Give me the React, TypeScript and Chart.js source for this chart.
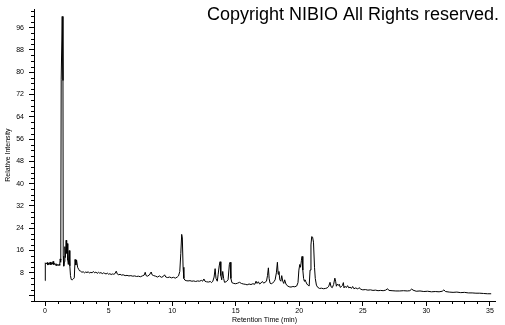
import React, { useEffect, useRef } from 'react';
import { Chart, registerables } from 'chart.js';

Chart.register(...registerables);

// Retention time (min)
const retentionTimes: number[] = [
  0.0, 0.02, 0.1, 0.17, 0.22, 0.28, 0.33, 0.4, 0.46, 0.52, 0.57, 0.63, 0.68, 0.74, 0.8, 0.86, 0.92, 0.98, 1.04, 1.1, 1.15, 1.19, 1.22,
  1.25, 1.27, 1.35, 1.41, 1.43, 1.47,
  1.52, 1.56, 1.6, 1.66, 1.7, 1.74, 1.79, 1.83, 1.9, 1.95, 2.0, 2.06, 2.14, 2.22, 2.3, 2.36, 2.42, 2.48, 2.56, 2.64, 2.72,
  2.8, 2.9, 3.0, 3.1, 3.2, 3.3, 3.4, 3.5, 3.6, 3.7, 3.8, 3.9, 4.0, 4.1, 4.2, 4.3, 4.4, 4.5, 4.6, 4.7, 4.8, 4.9, 5.0, 5.1, 5.2, 5.3, 5.4, 5.5, 5.6, 5.68, 5.8, 5.9, 6.0,
  6.15, 6.3, 6.45, 6.6, 6.75, 6.9, 7.05, 7.2, 7.35, 7.5, 7.65, 7.8, 7.88, 7.95, 8.05, 8.2, 8.35, 8.42, 8.55, 8.7, 8.85, 9.0, 9.15, 9.3, 9.4, 9.5, 9.65, 9.8, 9.95,
  10.1, 10.25, 10.4, 10.5, 10.6, 10.68, 10.75, 10.8, 10.86, 10.92, 11.0, 11.1,
  11.25, 11.4, 11.55, 11.7, 11.85, 12.0, 12.15, 12.3, 12.4, 12.5, 12.58, 12.7, 12.85, 13.0, 13.1, 13.2, 13.3, 13.38, 13.45, 13.55, 13.62, 13.7, 13.77, 13.83, 13.9, 13.98, 14.05, 14.12, 14.25, 14.4, 14.5, 14.56, 14.62, 14.7, 14.85,
  15.0, 15.15, 15.3, 15.45, 15.6, 15.75, 15.9, 16.05, 16.2, 16.35, 16.5, 16.6, 16.68, 16.78, 16.88, 17.0, 17.1, 17.2, 17.3, 17.42, 17.5, 17.57, 17.63, 17.7, 17.8, 17.9,
  18.0, 18.1, 18.2, 18.28, 18.34, 18.4, 18.47, 18.55, 18.62, 18.7, 18.78, 18.85, 18.95, 19.05, 19.2, 19.35, 19.5, 19.65, 19.8, 19.9, 19.97,
  20.04, 20.1, 20.17, 20.22, 20.28, 20.34, 20.4, 20.45, 20.52, 20.6, 20.7, 20.78, 20.85, 20.92, 20.98, 21.05, 21.12, 21.2, 21.26, 21.35, 21.45, 21.6, 21.75, 21.9,
  22.05, 22.2, 22.32, 22.42, 22.5, 22.6, 22.7, 22.8, 22.86, 22.92, 23.0, 23.08, 23.15, 23.22, 23.3, 23.4, 23.47, 23.52, 23.6, 23.7, 23.8, 23.9,
  24.0, 24.1, 24.2, 24.3, 24.45, 24.6, 24.7, 24.85, 25.0, 25.2, 25.4, 25.6, 25.8, 26.0, 26.2, 26.4, 26.6, 26.8, 26.95, 27.05, 27.3, 27.6, 27.9,
  28.2, 28.5, 28.7, 28.85, 28.95, 29.2, 29.5, 29.8, 30.1, 30.4, 30.7, 31.0, 31.25, 31.38, 31.5, 31.8, 32.1, 32.4, 32.7, 33.0, 33.3, 33.6, 33.9, 34.2, 34.5, 34.8, 35.1,
];

// Relative intensity (%)
const intensities: number[] = [
  5.2, 11.6, 11.2, 11.7, 10.8, 11.5, 11.0, 11.9, 10.9, 11.6, 11.1, 12.1, 11.0, 11.4, 10.8, 11.3, 10.5, 11.0, 10.6, 11.1, 10.7, 13.0, 11.8,
  12.5, 77.5, 100, 77, 14, 10.4,
  12, 17.4, 13.5, 19.7, 15, 18.5, 12.5, 11.0, 16.0, 10.5, 7.0, 5.6, 5.5, 5.8, 6.2, 12.8, 10.8, 12.6, 10.0, 9.3, 8.7,
  8.6, 8.2, 8.4, 8.0, 8.3, 8.1, 8.4, 7.9, 8.2, 8.0, 8.5, 8.0, 8.3, 7.8, 8.2, 7.9, 8.1, 7.7, 8.0, 7.8, 7.6, 7.9, 7.5, 7.7, 7.4, 7.6, 7.5, 7.7, 8.6, 7.6, 7.3, 7.5, 7.2,
  7.3, 7.0, 7.1, 6.9, 7.0, 6.8, 6.9, 6.7, 6.8, 6.6, 6.9, 7.2, 8.2, 7.0, 6.8, 7.2, 8.3, 7.3, 7.0, 6.8, 6.5, 6.9, 6.4, 6.7, 7.3, 6.5, 6.3, 6.5, 6.2,
  6.4, 6.1, 6.5, 6.9, 8.5, 15, 21.8, 20.5, 10, 6.0, 5.4, 5.2,
  5.1, 5.2, 5.0, 5.1, 4.9, 5.1, 5.0, 5.3, 5.0, 5.8, 5.0, 4.8, 4.7, 4.9, 4.5, 5.0, 6.5, 9.5, 6.0, 5.0, 7.5, 10.5, 12.0, 7.0, 5.5, 8.5, 6.0, 4.6, 4.8, 5.5, 11.0, 11.8, 6.0, 4.5, 4.2,
  4.1, 4.3, 4.6, 4.2, 4.0, 3.9, 3.7, 4.0, 3.8, 4.1, 3.9, 5.0, 4.2, 4.8, 4.0, 4.4, 4.9, 4.3, 4.6, 5.0, 7.0, 9.8, 6.0, 4.3, 4.1, 4.3,
  4.8, 5.5, 8.0, 11.8, 7.5, 8.5, 5.5, 5.0, 7.0, 5.0, 4.2, 5.5, 4.0, 3.4, 3.0, 2.9, 3.1, 3.0, 3.3, 4.5, 9.0,
  11.0, 10.0, 12.5, 13.9, 9.0, 6.0, 5.0, 5.5, 4.8, 4.0, 3.5, 3.3, 9.0, 18.0, 21.0, 20.8, 19.0, 10.0, 6.0, 3.6, 2.8, 2.4, 2.5, 2.3,
  2.4, 2.6, 3.2, 4.6, 3.0, 2.7, 3.8, 6.1, 5.0, 3.2, 4.0, 3.5, 3.9, 2.8, 3.0, 3.5, 4.5, 2.6, 3.2, 2.7, 3.4, 2.6,
  2.9, 2.4, 3.1, 2.3, 2.6, 2.2, 2.7, 2.1, 1.9, 2.0, 1.8, 1.9, 1.7, 1.8, 1.6, 1.7, 1.6, 1.8, 2.3, 1.7, 1.6, 1.5, 1.5,
  1.6, 1.5, 1.6, 2.2, 1.8, 1.4, 1.5, 1.3, 1.4, 1.2, 1.3, 1.2, 1.4, 1.9, 1.3, 1.1, 1.0, 1.1, 0.9, 1.0, 0.8, 0.8, 0.7, 0.7, 0.6, 0.5, 0.5,
];

const xTickLabels: number[] = [0, 5, 10, 15, 20, 25, 30, 35];
const yTickLabels: number[] = [8, 16, 24, 32, 40, 48, 56, 64, 72, 80, 88, 96];
const xMinorTicks: number[] = [1, 2, 3, 4, 6, 7, 8, 9, 11, 12, 13, 14, 16, 17, 18, 19, 21, 22, 23, 24, 26, 27, 28, 29, 31, 32, 33, 34];
const yMinorTicks: number[] = [-2, 2, 4, 6, 10, 12, 14, 18, 20, 22, 26, 28, 30, 34, 36, 38, 42, 44, 46, 50, 52, 54, 58, 60, 62, 66, 68, 70, 74, 76, 78, 82, 84, 86, 90, 92, 94, 98, 100, 102];

const xTitle = 'Retention Time (min)';
const yTitle = 'Relative Intensity';
const copyrightText = 'Copyright NIBIO All Rights reserved.';

const FONT = '"Liberation Sans", Arial, sans-serif';

export default function App() {
  const canvasRef = useRef<HTMLCanvasElement | null>(null);

  useEffect(() => {
    document.body.style.margin = '0';
    const canvas = canvasRef.current;
    if (!canvas) return;

    const extras = {
      id: 'extras',
      afterDraw(chart: any) {
        const { ctx, chartArea, scales } = chart;
        const xs = scales.x;
        const ys = scales.y;
        ctx.save();
        ctx.strokeStyle = '#000';
        ctx.lineWidth = 1;
        ctx.beginPath();
        for (const v of yMinorTicks) {
          const py = Math.round(ys.getPixelForValue(v)) + 0.5;
          if (py > chartArea.bottom + 0.6) continue;
          ctx.moveTo(chartArea.left - 3, py);
          ctx.lineTo(chartArea.left, py);
        }
        for (const v of xMinorTicks) {
          const px = Math.round(xs.getPixelForValue(v)) + 0.5;
          ctx.moveTo(px, chartArea.bottom);
          ctx.lineTo(px, chartArea.bottom + 3);
        }
        ctx.stroke();
        ctx.fillStyle = '#000';
        ctx.font = '18px ' + FONT;
        ctx.textBaseline = 'alphabetic';
        ctx.textAlign = 'left';
        ctx.fillText(copyrightText, 207, 20);
        ctx.restore();
      },
    };

    const chart = new Chart(canvas, {
      type: 'line',
      data: {
        datasets: [
          {
            data: retentionTimes.map((t, i) => ({ x: t, y: intensities[i] })),
            borderColor: '#000',
            borderWidth: 1,
            pointRadius: 0,
            tension: 0,
            fill: false,
          },
        ],
      },
      options: {
        responsive: false,
        animation: false,
        devicePixelRatio: 1,
        layout: { padding: { top: 0, right: 10, bottom: 0, left: 0 } },
        plugins: {
          legend: { display: false },
          tooltip: { enabled: false },
          title: { display: false },
        },
        scales: {
          x: {
            type: 'linear',
            min: -0.87,
            max: 35.4,
            afterFit: (s: any) => {
              s.height = 24;
            },
            border: { display: true, color: '#000', width: 1 },
            grid: { display: true, drawOnChartArea: false, drawTicks: true, tickLength: 5, color: '#000' },
            ticks: {
              stepSize: 5,
              includeBounds: false,
              autoSkip: false,
              maxRotation: 0,
              padding: 1,
              color: '#000',
              font: { family: FONT, size: 7 },
              callback: (v: any) => (xTickLabels.includes(Number(v)) ? String(v) : ''),
            },
            title: {
              display: true,
              text: xTitle,
              color: '#000',
              font: { family: FONT, size: 7 },
              padding: { top: 0, bottom: 1 },
            },
          },
          y: {
            type: 'linear',
            min: -2.1,
            max: 102.6,
            afterFit: (s: any) => {
              s.width = 34;
            },
            border: { display: true, color: '#000', width: 1 },
            grid: { display: true, drawOnChartArea: false, drawTicks: true, tickLength: 5, color: '#000' },
            ticks: {
              stepSize: 8,
              includeBounds: false,
              autoSkip: false,
              padding: 5,
              color: '#000',
              font: { family: FONT, size: 7 },
              callback: (v: any) => (yTickLabels.includes(Number(v)) ? String(v) : ''),
            },
            title: {
              display: true,
              text: yTitle,
              color: '#000',
              font: { family: FONT, size: 7 },
              padding: { top: 4, bottom: 0 },
            },
          },
        },
      },
      plugins: [extras],
    });

    return () => {
      chart.destroy();
    };
  }, []);

  return (
    <div style={{ width: 505, height: 325, background: '#fff' }}>
      <canvas ref={canvasRef} width={505} height={325} style={{ display: 'block', width: 505, height: 325 }} />
    </div>
  );
}
